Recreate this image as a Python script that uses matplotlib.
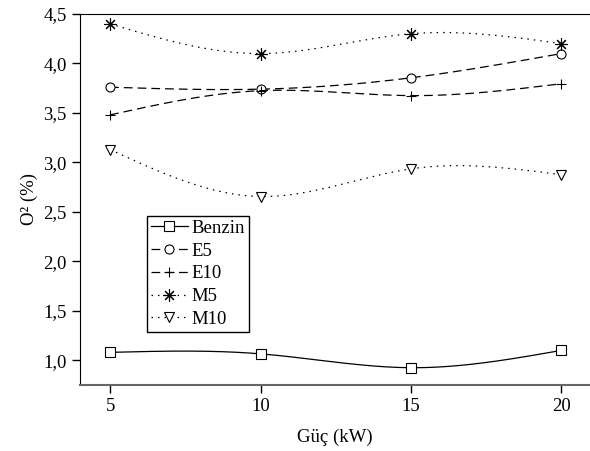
import matplotlib
matplotlib.use('Agg')
import matplotlib.pyplot as plt
import numpy as np
from matplotlib.ticker import FuncFormatter

plt.rcParams['font.family'] = 'Liberation Serif'
plt.rcParams['font.size'] = 13.5

guc = [5, 10, 15, 20]
benzin = [1.08, 1.065, 0.925, 1.10]
e5 = [3.76, 3.74, 3.855, 4.10]
e10 = [3.48, 3.725, 3.675, 3.795]
m5 = [4.40, 4.10, 4.30, 4.20]
m10 = [3.13, 2.655, 2.935, 2.875]


def spline(x, y, n=200):
    # natural cubic spline, just for drawing the smooth line
    x = np.asarray(x, float)
    y = np.asarray(y, float)
    k = len(x)
    h = np.diff(x)
    A = np.zeros((k, k))
    b = np.zeros(k)
    A[0, 0] = A[-1, -1] = 1
    for i in range(1, k - 1):
        A[i, i - 1] = h[i - 1]
        A[i, i] = 2 * (h[i - 1] + h[i])
        A[i, i + 1] = h[i]
        b[i] = 6 * ((y[i + 1] - y[i]) / h[i] - (y[i] - y[i - 1]) / h[i - 1])
    M = np.linalg.solve(A, b)
    xs = np.linspace(x[0], x[-1], n)
    idx = np.clip(np.searchsorted(x, xs) - 1, 0, k - 2)
    x0, x1 = x[idx], x[idx + 1]
    hh = x1 - x0
    ys = (M[idx] * (x1 - xs) ** 3 / (6 * hh) + M[idx + 1] * (xs - x0) ** 3 / (6 * hh)
          + (y[idx] / hh - M[idx] * hh / 6) * (x1 - xs)
          + (y[idx + 1] / hh - M[idx + 1] * hh / 6) * (xs - x0))
    return xs, ys


fig = plt.figure(figsize=(5.9, 4.51), dpi=100)
ax = fig.add_axes([0.1356, 0.1463, 0.8644, 0.8227])

dash = (0, (7, 4))
dot = (0, (1.2, 4))
series = [
    ('Benzin', benzin, '-', 's', 6.5),
    ('E5', e5, dash, 'o', 6.5),
    ('E10', e10, dash, '+', 7.5),
    ('M5', m5, dot, (8, 2, 0), 9),
    ('M10', m10, dot, 'v', 7),
]

for name, vals, ls, mk, ms in series:
    xs, ys = spline(guc, vals)
    ax.plot(xs, ys, color='black', ls=ls, lw=0.9)
    ax.plot(guc, vals, ls='none', marker=mk, ms=ms, mfc='white', mec='black', mew=0.8)
    ax.plot([], [], color='black', ls=ls, lw=0.9, marker=mk, ms=ms,
            mfc='white', mec='black', mew=0.8, label=name)

ax.set_xlim(4, 20.95)
ax.set_ylim(0.75, 4.5)
ax.set_xticks(guc)
ax.set_yticks(np.arange(1.0, 4.51, 0.5))
ax.yaxis.set_major_formatter(FuncFormatter(lambda v, p: ('%.1f' % v).replace('.', ',')))
ax.tick_params(direction='out', length=6, width=1, labelsize=13.5)

ax.spines['right'].set_visible(False)
ax.spines['bottom'].set_color('#666666')
ax.spines['bottom'].set_linewidth(1.5)

ax.set_xlabel('Güç (kW)', fontsize=13.5, labelpad=10)
ax.set_ylabel('O² (%)', fontsize=13.5)

leg = ax.legend(loc='upper left', bbox_to_anchor=(0.131, 0.4555), borderaxespad=0,
                fancybox=False, edgecolor='black', framealpha=1, fontsize=13.5,
                handlelength=2.0, labelspacing=0.3, borderpad=0.2, handletextpad=0.2)
leg.get_frame().set_linewidth(1.0)

fig.savefig('out.png', dpi=100)
